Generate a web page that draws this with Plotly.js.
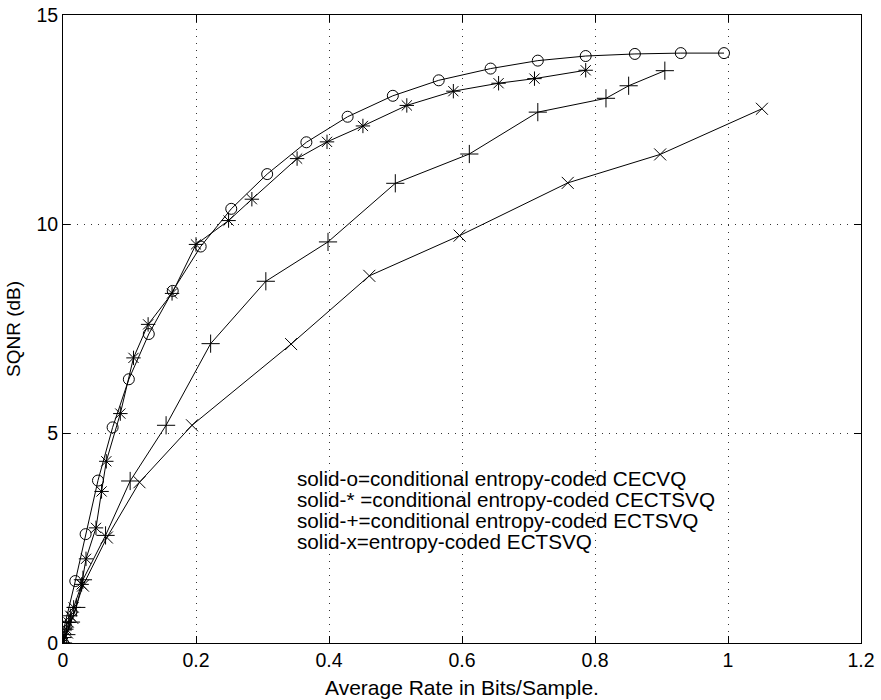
<!DOCTYPE html>
<html>
<head>
<meta charset="utf-8">
<script src="https://cdn.plot.ly/plotly-3.0.1.min.js"></script>
<style>html,body{margin:0;padding:0;background:#fff;}#chart{width:881px;height:700px;}</style>
</head>
<body>
<div id="chart"></div>
<script>
// Series: solid-o (conditional entropy-coded CECVQ)
const cecvqRate = [0, 0.002, 0.0185, 0.034, 0.0526, 0.0746, 0.099, 0.129, 0.165, 0.207, 0.253, 0.307, 0.366, 0.428, 0.496, 0.565, 0.643, 0.714, 0.786, 0.860, 0.929, 0.994];
const cecvqSqnr = [0, 0.39, 1.48, 2.60, 3.88, 5.15, 6.30, 7.38, 8.41, 9.47, 10.37, 11.20, 11.96, 12.57, 13.07, 13.44, 13.72, 13.91, 14.02, 14.07, 14.09, 14.09];

// Series: solid-* (conditional entropy-coded CECTSVQ)
const cectsvqRate = [0, 0.002, 0.005, 0.0085, 0.011, 0.016, 0.028, 0.0346, 0.0496, 0.058, 0.0651, 0.0862, 0.106, 0.128, 0.164, 0.200, 0.249, 0.284, 0.352, 0.397, 0.451, 0.517, 0.587, 0.655, 0.709, 0.786];
const cectsvqSqnr = [0, 0.13, 0.33, 0.49, 0.65, 0.85, 1.40, 2.01, 2.75, 3.62, 4.34, 5.48, 6.81, 7.61, 8.35, 9.52, 10.09, 10.60, 11.57, 11.97, 12.35, 12.84, 13.18, 13.37, 13.48, 13.68];

// Series: solid-+ (conditional entropy-coded ECTSVQ)
const condEctsvqRate = [0, 0.005, 0.012, 0.020, 0.030, 0.064, 0.101, 0.155, 0.222, 0.305, 0.3985, 0.4997, 0.611, 0.714, 0.8165, 0.8506, 0.905];
const condEctsvqSqnr = [0, 0.20, 0.50, 0.85, 1.51, 2.57, 3.87, 5.20, 7.15, 8.64, 9.58, 10.98, 11.68, 12.68, 13.01, 13.31, 13.67];

// Series: solid-x (entropy-coded ECTSVQ)
const ectsvqRate = [0, 0.006, 0.014, 0.030, 0.066, 0.115, 0.194, 0.343, 0.4606, 0.5964, 0.759, 0.898, 1.051];
const ectsvqSqnr = [0, 0.25, 0.60, 1.37, 2.52, 3.84, 5.20, 7.14, 8.77, 9.73, 10.99, 11.67, 12.76];

const legendLines = [
  "solid-o=conditional entropy-coded CECVQ",
  "solid-* =conditional entropy-coded CECTSVQ",
  "solid-+=conditional entropy-coded ECTSVQ",
  "solid-x=entropy-coded ECTSVQ"
];
const legendY = [3.94, 3.435, 2.915, 2.43];

const xTickVals = [0, 0.2, 0.4, 0.6, 0.8, 1, 1.2];
const xTickText = ["0", "0.2", "0.4", "0.6", "0.8", "1", "1.2"];
const yTickVals = [0, 5, 10, 15];
const yTickText = ["0", "5", "10", "15"];

const FONT = '"Liberation Sans", Arial, Helvetica, sans-serif';

function series(x, y, symbol, size) {
  return {
    x: x, y: y, type: 'scatter', mode: 'lines+markers',
    line: {color: '#000', width: 1},
    marker: {symbol: symbol, size: size, color: '#000', line: {color: '#000', width: 1}},
    showlegend: false, hoverinfo: 'skip'
  };
}

const data = [
  series(ectsvqRate, ectsvqSqnr, 'x-thin-open', 12),
  series(condEctsvqRate, condEctsvqSqnr, 'cross-thin-open', 13),
  series(cectsvqRate, cectsvqSqnr, 'asterisk-open', 12),
  series(cecvqRate, cecvqSqnr, 'circle-open', 11)
];

const annotations = legendLines.map((t, i) => ({
  x: 0.351, y: legendY[i], xref: 'x', yref: 'y', text: t, showarrow: false,
  xanchor: 'left', yanchor: 'middle', borderpad: 0,
  font: {family: FONT, size: 20.7, color: '#000'}
}));

const axisCommon = {
  showline: true, linecolor: '#000', linewidth: 1, mirror: 'ticks',
  ticks: 'inside', ticklen: 7, tickwidth: 1, tickcolor: '#000',
  showgrid: true, gridcolor: '#333', gridwidth: 1, griddash: '1px,6px',
  zeroline: false, tickfont: {family: FONT, size: 19.5, color: '#000'}
};

const layout = {
  width: 881, height: 700,
  margin: {l: 63, r: 20, t: 15, b: 57},
  paper_bgcolor: '#fff', plot_bgcolor: '#fff',
  font: {family: FONT, color: '#000'},
  xaxis: Object.assign({}, axisCommon, {
    range: [0, 1.2], tickvals: xTickVals, ticktext: xTickText,
    title: {text: 'Average Rate in Bits/Sample.', font: {family: FONT, size: 21, color: '#000'}, standoff: 9}
  }),
  yaxis: Object.assign({}, axisCommon, {
    range: [0, 15], tickvals: yTickVals, ticktext: yTickText,
    title: {text: 'SQNR (dB)', font: {family: FONT, size: 19, color: '#000'}, standoff: 10}
  }),
  annotations: annotations
};

Plotly.newPlot('chart', data, layout, {staticPlot: true, displayModeBar: false});
</script>
</body>
</html>
